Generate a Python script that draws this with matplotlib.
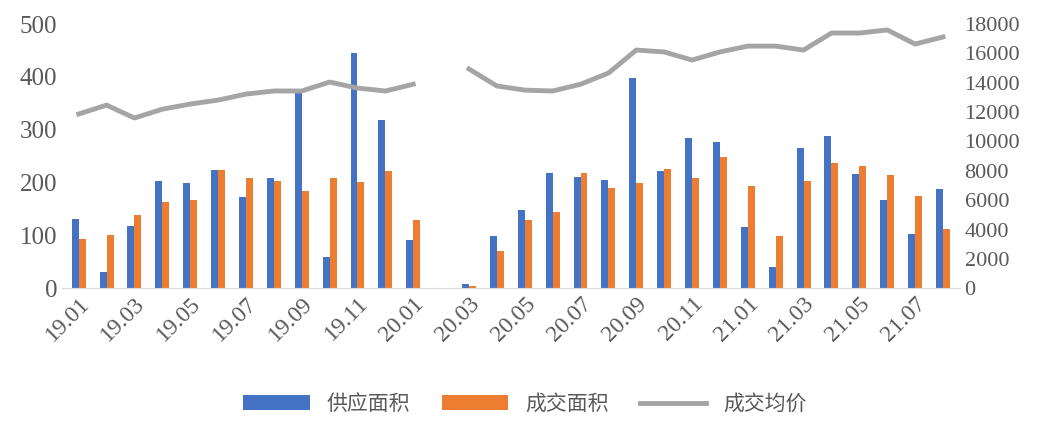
import matplotlib.pyplot as plt
import numpy as np

months = ["19.01","19.02","19.03","19.04","19.05","19.06","19.07","19.08","19.09","19.10","19.11","19.12",
          "20.01","20.02","20.03","20.04","20.05","20.06","20.07","20.08","20.09","20.10","20.11","20.12",
          "21.01","21.02","21.03","21.04","21.05","21.06","21.07","21.08"]
supply = [131,30,117,203,200,223,172,208,375,59,445,318,91,0,8,98,148,218,210,205,398,222,284,277,115,40,265,288,216,167,102,188]
deal = [94,100,138,163,167,223,208,203,184,208,201,222,129,0,4,70,129,144,218,189,199,225,208,248,193,98,203,237,231,214,174,112]
price = [11870,12480,11600,12200,12550,12820,13230,13440,13440,14050,13640,13440,13900,np.nan,14940,13780,13500,13440,13900,14660,
         16230,16100,15550,16100,16500,16500,16230,17390,17390,17600,16640,17120]

plt.rcParams['font.family'] = ['Liberation Serif', 'Noto Sans CJK SC']
fig = plt.figure(figsize=(10.5, 4.38), dpi=100)
ax = fig.add_axes([0.059, 0.342, 0.855, 0.603])
x = np.arange(len(months))
w = 0.25
b1 = ax.bar(x - w/2, supply, w, color="#4472C4", label="供应面积")
b2 = ax.bar(x + w/2, deal, w, color="#ED7D31", label="成交面积")
ax.set_ylim(0, 500)
ax.set_xlim(-0.6, len(months) - 0.4)
ax.set_yticks(range(0, 501, 100))
ax2 = ax.twinx()
l1, = ax2.plot(x, price, color="#A5A5A5", lw=3.5, label="成交均价")
ax2.set_ylim(0, 18000)
ax2.set_yticks(range(0, 18001, 2000))
for a in (ax, ax2):
    for s in a.spines.values():
        s.set_visible(False)
    a.tick_params(length=0, labelsize=16, labelcolor="#595959")
ax.tick_params(axis='y', labelsize=18)
ax.spines['bottom'].set_visible(True)
ax.spines['bottom'].set_color("#D9D9D9")
ax.set_xticks(x[::2])
ax.set_xticklabels(months[::2], rotation=45, ha="right", rotation_mode="anchor", fontsize=17)
fig.legend(handles=[b1, b2, l1], loc="lower center", bbox_to_anchor=(0.5, 0.01), ncol=3, frameon=False,
           prop={'family': ['Noto Sans CJK SC'], 'size': 15}, labelcolor="#595959", handlelength=3.2, columnspacing=1.5)
fig.savefig("out.png")
